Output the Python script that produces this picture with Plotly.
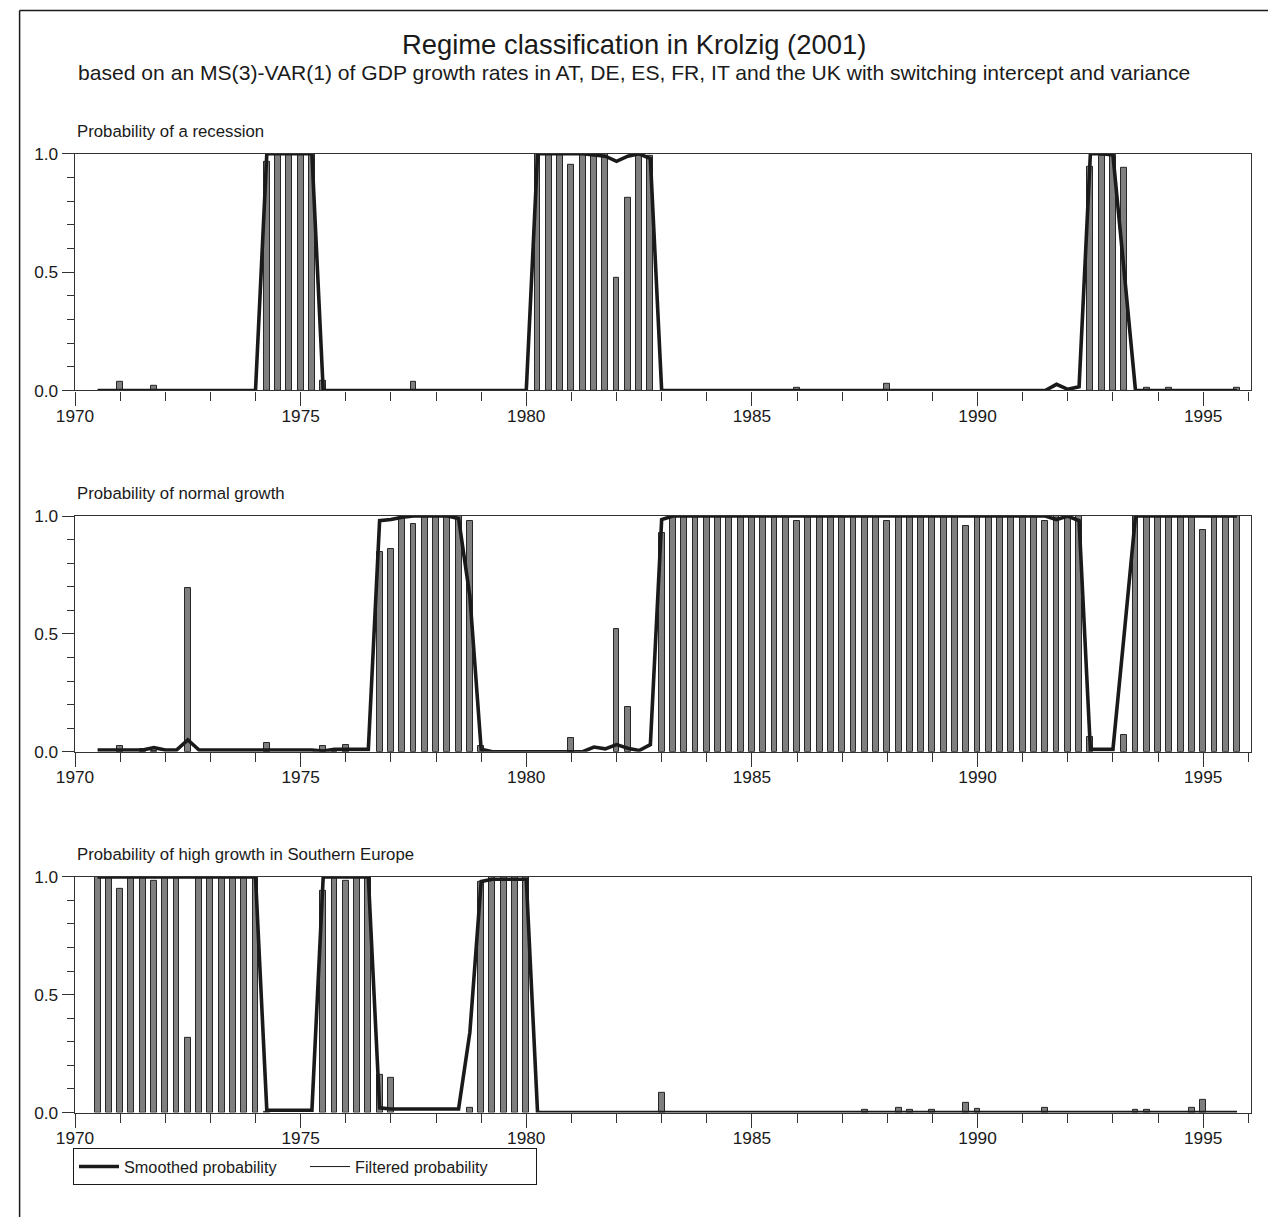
import plotly.graph_objects as go

# ---------------- data (quarterly, 1970Q3 - 1995Q4) ----------------
years = list(range(1970, 1996))
quarters = [1, 2, 3, 4]
dates = [y + (q - 1) / 4 for y in years for q in quarters if y + (q - 1) / 4 >= 1970.5]

recession_filtered = [
    0, 0,                       # 1970
    0.035, 0, 0, 0.02,          # 1971
    0, 0, 0, 0,                 # 1972
    0, 0, 0, 0,                 # 1973
    0, 0.966, 1.0, 1.0,         # 1974
    1.0, 1.0, 0.04, 0,          # 1975
    0, 0, 0, 0,                 # 1976
    0, 0, 0.035, 0,             # 1977
    0, 0, 0, 0,                 # 1978
    0, 0, 0, 0,                 # 1979
    0, 1.0, 1.0, 1.0,           # 1980
    0.952, 1.0, 1.0, 1.0,       # 1981
    0.478, 0.816, 1.0, 0.99,    # 1982
    0, 0, 0, 0,                 # 1983
    0, 0, 0, 0,                 # 1984
    0, 0, 0, 0,                 # 1985
    0.013, 0, 0, 0,             # 1986
    0, 0, 0, 0,                 # 1987
    0.03, 0, 0, 0,              # 1988
    0, 0, 0, 0,                 # 1989
    0, 0, 0, 0,                 # 1990
    0, 0, 0, 0,                 # 1991
    0, 0, 0.945, 0.99,          # 1992
    0.995, 0.94, 0, 0.013,      # 1993
    0, 0.013, 0, 0,             # 1994
    0, 0, 0, 0.01,              # 1995
]
recession_smoothed = [
    0, 0,                       # 1970
    0, 0, 0, 0,                 # 1971
    0, 0, 0, 0,                 # 1972
    0, 0, 0, 0,                 # 1973
    0, 1.0, 1.0, 1.0,           # 1974
    1.0, 1.0, 0, 0,             # 1975
    0, 0, 0, 0,                 # 1976
    0, 0, 0, 0,                 # 1977
    0, 0, 0, 0,                 # 1978
    0, 0, 0, 0,                 # 1979
    0, 1.0, 1.0, 1.0,           # 1980
    1.0, 1.0, 0.995, 0.99,      # 1981
    0.968, 0.99, 1.0, 0.98,     # 1982
    0, 0, 0, 0,                 # 1983
    0, 0, 0, 0,                 # 1984
    0, 0, 0, 0,                 # 1985
    0, 0, 0, 0,                 # 1986
    0, 0, 0, 0,                 # 1987
    0, 0, 0, 0,                 # 1988
    0, 0, 0, 0,                 # 1989
    0, 0, 0, 0,                 # 1990
    0, 0, 0, 0.026,             # 1991
    0.005, 0.016, 1.0, 1.0,     # 1992
    0.995, 0.5, 0, 0,           # 1993
    0, 0, 0, 0,                 # 1994
    0, 0, 0, 0,                 # 1995
]

normal_filtered = [
    0, 0,                       # 1970
    0.024, 0, 0.012, 0.005,     # 1971
    0, 0, 0.695, 0,             # 1972
    0, 0, 0, 0,                 # 1973
    0, 0.038, 0, 0,             # 1974
    0, 0, 0.024, 0.005,         # 1975
    0.028, 0, 0, 0.847,         # 1976
    0.859, 1.0, 0.965, 1.0,     # 1977
    1.0, 1.0, 1.0, 0.98,        # 1978
    0.025, 0, 0, 0,             # 1979
    0, 0, 0, 0,                 # 1980
    0.06, 0, 0, 0,              # 1981
    0.52, 0.19, 0, 0,           # 1982
    0.93, 1.0, 1.0, 1.0,        # 1983
    1.0, 1.0, 1.0, 1.0,         # 1984
    1.0, 1.0, 1.0, 1.0,         # 1985
    0.98, 1.0, 1.0, 1.0,        # 1986
    1.0, 1.0, 1.0, 1.0,         # 1987
    0.98, 1.0, 1.0, 1.0,        # 1988
    1.0, 1.0, 1.0, 0.958,       # 1989
    1.0, 1.0, 1.0, 1.0,         # 1990
    1.0, 1.0, 0.98, 1.0,        # 1991
    1.0, 1.0, 0.064, 0,         # 1992
    0, 0.07, 1.0, 1.0,          # 1993
    1.0, 1.0, 1.0, 1.0,         # 1994
    0.94, 1.0, 1.0, 1.0,        # 1995
]
normal_smoothed = [
    0.007, 0.007,               # 1970
    0.007, 0.007, 0.007, 0.017, # 1971
    0.007, 0.007, 0.05, 0.007,  # 1972
    0.007, 0.007, 0.007, 0.007, # 1973
    0.007, 0.007, 0.007, 0.007, # 1974
    0.007, 0.007, 0.003, 0.01,  # 1975
    0.01, 0.01, 0.01, 0.98,     # 1976
    0.985, 0.995, 1.0, 1.0,     # 1977
    1.0, 1.0, 0.99, 0.66,       # 1978
    0.01, 0, 0, 0,              # 1979
    0, 0, 0, 0,                 # 1980
    0, 0, 0.02, 0.012,          # 1981
    0.03, 0.015, 0.005, 0.03,   # 1982
    0.985, 1.0, 1.0, 1.0,       # 1983
    1.0, 1.0, 1.0, 1.0,         # 1984
    1.0, 1.0, 1.0, 1.0,         # 1985
    1.0, 1.0, 1.0, 1.0,         # 1986
    1.0, 1.0, 1.0, 1.0,         # 1987
    1.0, 1.0, 1.0, 1.0,         # 1988
    1.0, 1.0, 1.0, 1.0,         # 1989
    1.0, 1.0, 1.0, 1.0,         # 1990
    1.0, 1.0, 1.0, 0.985,       # 1991
    1.0, 0.98, 0.01, 0.01,      # 1992
    0.01, 0.5, 1.0, 1.0,        # 1993
    1.0, 1.0, 1.0, 1.0,         # 1994
    1.0, 1.0, 1.0, 1.0,         # 1995
]

high_filtered = [
    1.0, 1.0,                   # 1970
    0.95, 1.0, 1.0, 0.983,      # 1971
    1.0, 1.0, 0.317, 1.0,       # 1972
    1.0, 1.0, 1.0, 1.0,         # 1973
    1.0, 0.003, 0, 0,           # 1974
    0, 0, 0.94, 1.0,            # 1975
    0.983, 1.0, 1.0, 0.158,     # 1976
    0.148, 0, 0, 0,             # 1977
    0, 0, 0, 0.02,              # 1978
    0.98, 1.0, 1.0, 1.0,        # 1979
    1.0, 0, 0, 0,               # 1980
    0, 0, 0, 0,                 # 1981
    0, 0, 0, 0,                 # 1982
    0.085, 0, 0, 0,             # 1983
    0, 0, 0, 0,                 # 1984
    0, 0, 0, 0,                 # 1985
    0, 0, 0, 0,                 # 1986
    0, 0, 0.013, 0,             # 1987
    0, 0.02, 0.01, 0,           # 1988
    0.013, 0, 0, 0.043,         # 1989
    0.015, 0, 0, 0,             # 1990
    0, 0, 0.02, 0,              # 1991
    0, 0, 0, 0,                 # 1992
    0, 0, 0.013, 0.013,         # 1993
    0, 0, 0, 0.02,              # 1994
    0.055, 0, 0, 0,             # 1995
]
high_smoothed = [
    1.0, 1.0,                   # 1970
    1.0, 1.0, 1.0, 1.0,         # 1971
    1.0, 1.0, 1.0, 1.0,         # 1972
    1.0, 1.0, 1.0, 1.0,         # 1973
    1.0, 0.01, 0.01, 0.01,      # 1974
    0.01, 0.01, 1.0, 1.0,       # 1975
    1.0, 1.0, 1.0, 0.02,        # 1976
    0.015, 0.015, 0.015, 0.015, # 1977
    0.015, 0.015, 0.015, 0.34,  # 1978
    0.98, 0.99, 0.99, 0.99,     # 1979
    0.99, 0, 0, 0,              # 1980
    0, 0, 0, 0,                 # 1981
    0, 0, 0, 0,                 # 1982
    0, 0, 0, 0,                 # 1983
    0, 0, 0, 0,                 # 1984
    0, 0, 0, 0,                 # 1985
    0, 0, 0, 0,                 # 1986
    0, 0, 0, 0,                 # 1987
    0, 0, 0, 0,                 # 1988
    0, 0, 0, 0,                 # 1989
    0, 0, 0, 0,                 # 1990
    0, 0, 0, 0,                 # 1991
    0, 0, 0, 0,                 # 1992
    0, 0, 0, 0,                 # 1993
    0, 0, 0, 0,                 # 1994
    0, 0, 0, 0,                 # 1995
]

panel_titles = [
    "Probability of a recession",
    "Probability of normal growth",
    "Probability of high growth in Southern Europe",
]
title_text = "Regime classification in Krolzig (2001)"
subtitle_text = ("based on an MS(3)-VAR(1) of GDP growth rates in AT, DE, ES, FR, IT "
                 "and the UK with switching intercept and variance")
legend_names = ["Smoothed probability", "Filtered probability"]

# ---------------- layout constants ----------------
W, H = 1268, 1227
# the photographed page shows the figure slightly shifted/scaled; target positions
# below are picture pixels, converted to figure pixels with OX/OY/S.
OX, OY, S = 19.0, 9.0, 0.985
FONT = "Liberation Sans, Arial, sans-serif"
INK = "#1a1a1a"
AX = "#333333"
x_left, x_right = 75, 1251
panels_px = [(153, 390), (515.7, 751.7), (877, 1113)]
title_px = [131, 493, 855]

def fx(p):
    return ((p - OX) / S) / W

def fy(p):
    return 1 - ((p - OY) / S) / H

def fs(size):
    return size / S

fig = go.Figure()
series = [
    (recession_filtered, recession_smoothed),
    (normal_filtered, normal_smoothed),
    (high_filtered, high_smoothed),
]
for k, (filt, smooth) in enumerate(series):
    xa = "x" if k == 0 else f"x{k+1}"
    ya = "y" if k == 0 else f"y{k+1}"
    fig.add_trace(go.Bar(
        x=dates, y=filt, width=0.13, xaxis=xa, yaxis=ya,
        marker=dict(color="#7f7f7f",
                    line=dict(color="#262626", width=[1 if v > 0 else 0 for v in filt])),
        showlegend=False, name=legend_names[1],
    ))
    fig.add_trace(go.Scatter(
        x=dates, y=smooth, mode="lines", xaxis=xa, yaxis=ya,
        line=dict(color=INK, width=3.6),
        name=legend_names[0], showlegend=(k == 0),
    ))

# legend-only entry for the filtered probability (thin line)
fig.add_trace(go.Scatter(
    x=[None], y=[None], mode="lines", name=legend_names[1],
    line=dict(color=INK, width=1), xaxis="x3", yaxis="y3", showlegend=True,
))

layout = dict(
    width=W, height=H,
    margin=dict(l=0, r=0, t=0, b=0),
    paper_bgcolor="white", plot_bgcolor="white",
    font=dict(family=FONT, color=INK, size=fs(17)),
    bargap=0,
    legend=dict(
        orientation="h", x=fx(73), y=fy(1149), xanchor="left", yanchor="top",
        bordercolor=INK, borderwidth=1, bgcolor="white",
        font=dict(size=fs(16), family=FONT, color=INK),
        itemwidth=40, tracegroupgap=0,
        entrywidth=176, entrywidthmode="pixels",
    ),
    annotations=[],
    shapes=[],
)

for k, (top, bot) in enumerate(panels_px):
    sfx = "" if k == 0 else str(k + 1)
    layout["xaxis" + sfx] = dict(
        domain=[fx(x_left), fx(x_right)], anchor="y" + sfx,
        range=[1970, 1996.06], tick0=1970, dtick=5,
        ticks="outside", ticklen=fs(14), tickwidth=1.2, tickcolor=AX,
        ticklabelstandoff=-5,
        showline=True, linecolor=AX, linewidth=1.3, mirror=True,
        showgrid=False, zeroline=False,
        tickfont=dict(size=fs(17), family=FONT, color=INK),
        minor=dict(dtick=1, tick0=1970, ticks="outside", ticklen=fs(9), tickwidth=1.2,
                   tickcolor=AX, showgrid=False),
        fixedrange=True,
    )
    layout["yaxis" + sfx] = dict(
        domain=[fy(bot), fy(top)], anchor="x" + sfx,
        range=[0, 1], tick0=0, dtick=0.5, tickformat=".1f",
        ticks="outside", ticklen=fs(12), tickwidth=1.2, tickcolor=AX,
        showline=True, linecolor=AX, linewidth=1.3, mirror=True,
        showgrid=False, zeroline=False,
        tickfont=dict(size=fs(17), family=FONT, color=INK),
        minor=dict(dtick=0.1, tick0=0, ticks="outside", ticklen=fs(7), tickwidth=1.2,
                   tickcolor=AX, showgrid=False),
        fixedrange=True,
    )
    layout["annotations"].append(dict(
        text=panel_titles[k], x=fx(x_left), y=fy(title_px[k]), xref="paper", yref="paper",
        xanchor="left", yanchor="middle", showarrow=False,
        font=dict(size=fs(16.5), family=FONT, color=INK),
    ))

# title + subtitle as one two-line text block (line gap keeps the lines apart)
layout["annotations"].append(dict(
    text=(f"<span style='font-size:{fs(27):.1f}px'>{title_text}</span><br>"
          f"<span style='font-size:{fs(20.8):.1f}px'>{subtitle_text}</span>"),
    x=fx(634), y=fy(56), xref="paper", yref="paper",
    xanchor="center", yanchor="middle", showarrow=False, align="center",
    font=dict(size=fs(19.6), family=FONT, color=INK),
))
# outer frame of the page (left and top edges)
layout["shapes"].append(dict(
    type="line", xref="paper", yref="paper", x0=0.6 / W, x1=0.6 / W, y0=0, y1=1 - 0.6 / H,
    line=dict(color=INK, width=1.5), layer="below",
))
layout["shapes"].append(dict(
    type="line", xref="paper", yref="paper", x0=0.6 / W, x1=1, y0=1 - 0.6 / H, y1=1 - 0.6 / H,
    line=dict(color=INK, width=1.5), layer="below",
))

fig.update_layout(**layout)
fig.write_html(
    "out.html",
    post_script="document.body.style.margin='0';",
)
